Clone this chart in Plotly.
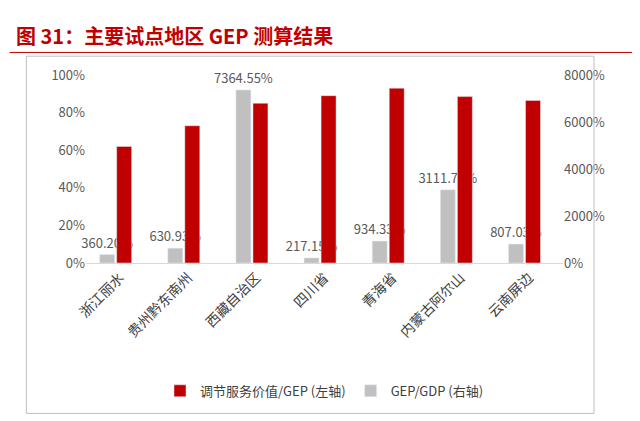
import plotly.graph_objects as go

cats = ["浙江丽水", "贵州黔东南州", "西藏自治区", "四川省", "青海省", "内蒙古阿尔山", "云南屏边"]
reg = [62, 73, 85, 89, 93, 88.5, 86.5]
gep_gdp = [360.20, 630.93, 7364.55, 217.15, 934.33, 3111.79, 807.03]
gep_lbl = ["360.20%", "630.93%", "7364.55%", "217.15%", "934.33%", "3111.79%", "807.03%"]

F = "Noto Sans CJK SC"
fig = go.Figure()
fig.add_trace(go.Bar(x=cats, y=gep_gdp, name="GEP/GDP (右轴)", yaxis="y", marker_color="#c0c0c0",
                     offsetgroup="a", width=0.22, offset=-0.3,
                     text=gep_lbl, textposition="outside", cliponaxis=False, constraintext="none",
                     textfont=dict(color="#595959", size=13, family=F)))
fig.add_trace(go.Bar(x=cats, y=reg, name="调节服务价值/GEP (左轴)", yaxis="y2", marker_color="#c00000",
                     offsetgroup="b", width=0.22, offset=-0.05))
fig.update_layout(
    width=640, height=421, paper_bgcolor="white", plot_bgcolor="white",
    margin=dict(l=78, r=85, t=67, b=166, autoexpand=False),
    uniformtext=dict(minsize=13, mode="show"),
    font=dict(family=F, color="#595959", size=13),
    xaxis=dict(tickangle=-45, showline=True, linecolor="#d9d9d9", tickfont=dict(size=14, color="#404040")),
    yaxis=dict(side="right", range=[0, 8000], dtick=2000, ticksuffix="%", showgrid=False,
               tickfont=dict(size=13, color="#595959")),
    yaxis2=dict(side="left", overlaying="y", range=[0, 100], dtick=20, ticksuffix="%", showgrid=False,
                tickfont=dict(size=13, color="#595959")),
    legend=dict(orientation="h", x=0.5, xanchor="center", y=-0.68, yanchor="middle",
                traceorder="reversed", font=dict(size=13, color="#404040")),
    showlegend=True,
)
fig.add_annotation(text="<b>图 31：主要试点地区 GEP 测算结果</b>", xref="paper", yref="paper",
                   x=-0.15, y=1.21, xanchor="left", yanchor="middle", showarrow=False,
                   font=dict(size=20, color="#c00000", family=F))
fig.add_shape(type="line", xref="paper", yref="paper", x0=-0.16, x1=1.17, y0=1.12, y1=1.12,
              line=dict(color="#c00000", width=1))
fig.add_shape(type="rect", xref="paper", yref="paper", x0=-0.125, x1=1.065, y0=-0.80, y1=1.10,
              line=dict(color="#bfbfbf", width=1))
fig.write_html("out.html")
